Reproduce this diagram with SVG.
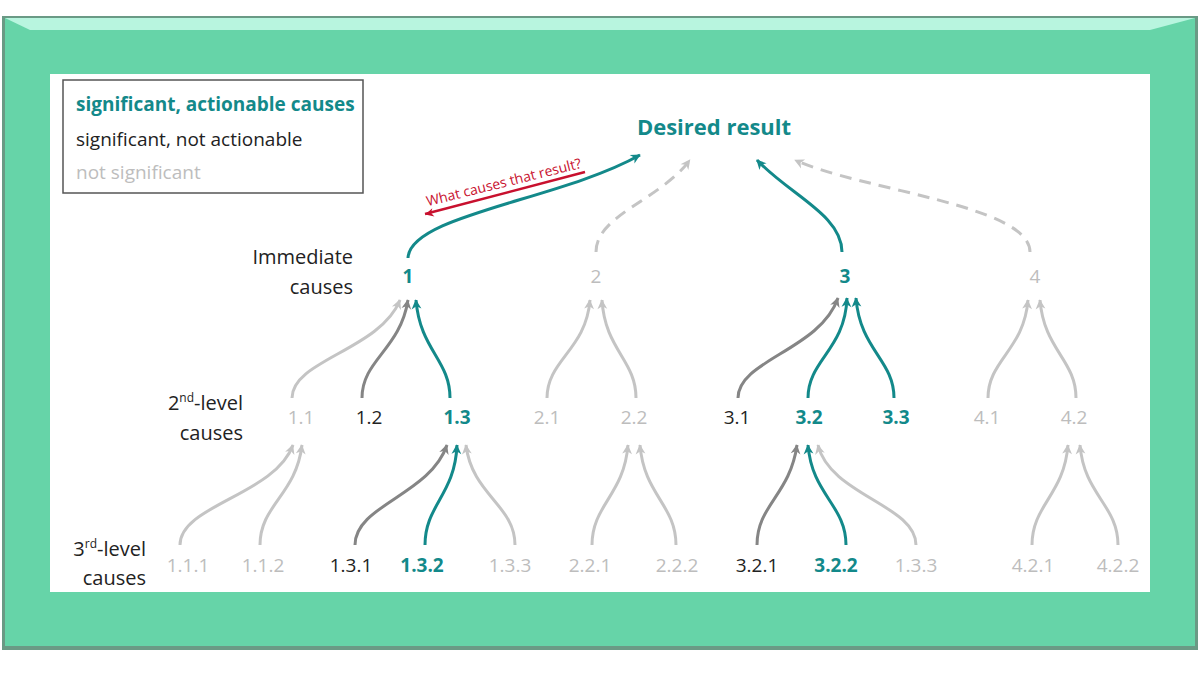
<svg xmlns="http://www.w3.org/2000/svg" width="1200" height="675" viewBox="0 0 1200 675">
<defs>
<style>
text{font-family:"Open Sans","Liberation Sans",sans-serif}
.t{fill:#13898a}.b{fill:#222}.g{fill:#bdbdbd}
.n{font-size:19px;text-anchor:middle}
.tb{font-weight:bold}
.c{fill:none;stroke-width:3}
.ct{stroke:#13898a}.cd{stroke:#858585}.cg{stroke:#c4c4c4}
.dash{stroke-dasharray:12 8}
</style>
<marker id="mt" viewBox="0 0 12 12" refX="11" refY="6" markerWidth="6" markerHeight="6" orient="auto" markerUnits="userSpaceOnUse" style="overflow:visible"><path d="M12,6 L-2,-1 L2,6 L-2,13Z" fill="#13898a" transform="scale(1.4) translate(-3,-2)"/></marker>
<marker id="md" viewBox="0 0 12 12" refX="11" refY="6" markerWidth="6" markerHeight="6" orient="auto" markerUnits="userSpaceOnUse" style="overflow:visible"><path d="M12,6 L-2,-1 L2,6 L-2,13Z" fill="#858585" transform="scale(1.4) translate(-3,-2)"/></marker>
<marker id="mg" viewBox="0 0 12 12" refX="11" refY="6" markerWidth="6" markerHeight="6" orient="auto" markerUnits="userSpaceOnUse" style="overflow:visible"><path d="M12,6 L-2,-1 L2,6 L-2,13Z" fill="#c4c4c4" transform="scale(1.4) translate(-3,-2)"/></marker>
<marker id="mr" viewBox="0 0 12 12" refX="11" refY="6" markerWidth="6" markerHeight="6" orient="auto" markerUnits="userSpaceOnUse" style="overflow:visible"><path d="M12,6 L-2,-1 L2,6 L-2,13Z" fill="#c8102e" transform="scale(1.2) translate(-3,-2)"/></marker>
</defs>
<rect width="1200" height="675" fill="#fff"/>
<g id="frame">
<rect x="2" y="16" width="1196" height="634" fill="#6a9a85"/>
<rect x="5" y="18" width="1190" height="628" fill="#66d4a8"/>
<polygon points="5,18 1195,18 1150,30 30,30" fill="#b8f5df"/>
<rect x="50" y="74" width="1100" height="518" fill="#fff"/>
</g>
<g id="legend">
<rect x="63" y="80" width="300" height="113" fill="#fff" stroke="#555" stroke-width="1.5"/>
<text x="76" y="111" font-size="19" class="t tb">significant, actionable causes</text>
<text x="76" y="146" font-size="19" class="b">significant, not actionable</text>
<text x="76" y="179" font-size="19" class="g">not significant</text>
</g>
<g id="levels" font-size="20" class="b" text-anchor="end">
<text x="353" y="264">Immediate</text>
<text x="353" y="294">causes</text>
<text x="243" y="410">2<tspan font-size="12" dy="-8">nd</tspan><tspan dy="8">-level</tspan></text>
<text x="243" y="440">causes</text>
<text x="146" y="556">3<tspan font-size="12" dy="-8">rd</tspan><tspan dy="8">-level</tspan></text>
<text x="146" y="585">causes</text>
</g>
<g id="connectors">
<path class="c ct" d="M408,258 C410,215 560,200 640,155" marker-end="url(#mt)"/>
<path class="c cg dash" d="M596,252 C596,215 660,200 690,160" marker-end="url(#mg)"/>
<path class="c ct" d="M842,252 C842,215 790,195 757,160" marker-end="url(#mt)"/>
<path class="c cg dash" d="M1030,252 C1030,205 860,190 795,160" marker-end="url(#mg)"/>
<path d="M585,172 L425,214" fill="none" stroke="#c8102e" stroke-width="2.5" marker-end="url(#mr)"/>
<!-- level2 -> level1 -->
<path class="c cg" d="M292,398 C292,360 380,350 400,300" marker-end="url(#mg)"/>
<path class="c cd" d="M362,398 C362,360 400,350 408,300" marker-end="url(#md)"/>
<path class="c ct" d="M450,398 C450,360 420,350 416,300" marker-end="url(#mt)"/>
<path class="c cg" d="M547,398 C547,360 586,350 590,300" marker-end="url(#mg)"/>
<path class="c cg" d="M636,398 C636,360 605,350 602,300" marker-end="url(#mg)"/>
<path class="c cd" d="M738,398 C738,360 820,350 838,298" marker-end="url(#md)"/>
<path class="c ct" d="M808,398 C808,360 845,350 847,298" marker-end="url(#mt)"/>
<path class="c ct" d="M894,398 C894,360 860,350 856,298" marker-end="url(#mt)"/>
<path class="c cg" d="M988,398 C988,360 1024,350 1028,300" marker-end="url(#mg)"/>
<path class="c cg" d="M1076,398 C1076,360 1044,350 1040,300" marker-end="url(#mg)"/>
<!-- level3 -> level2 -->
<path class="c cg" d="M180,545 C180,505 275,495 293,445" marker-end="url(#mg)"/>
<path class="c cg" d="M260,545 C260,505 296,495 302,445" marker-end="url(#mg)"/>
<path class="c cd" d="M355,545 C355,505 430,495 447,445" marker-end="url(#md)"/>
<path class="c ct" d="M425,545 C425,505 455,495 457,445" marker-end="url(#mt)"/>
<path class="c cg" d="M515,545 C515,505 472,495 466,445" marker-end="url(#mg)"/>
<path class="c cg" d="M592,545 C592,505 624,495 628,445" marker-end="url(#mg)"/>
<path class="c cg" d="M676,545 C676,505 644,495 640,445" marker-end="url(#mg)"/>
<path class="c cd" d="M757,545 C757,505 790,495 797,445" marker-end="url(#md)"/>
<path class="c ct" d="M846,545 C846,505 812,495 808,445" marker-end="url(#mt)"/>
<path class="c cg" d="M916,545 C916,505 830,495 818,445" marker-end="url(#mg)"/>
<path class="c cg" d="M1032,545 C1032,505 1064,495 1068,445" marker-end="url(#mg)"/>
<path class="c cg" d="M1118,545 C1118,505 1084,495 1080,445" marker-end="url(#mg)"/>
</g>
<g id="n0"><text x="714" y="135" font-size="22" text-anchor="middle" class="t tb">Desired result</text></g>
<text x="505" y="187" font-size="14" fill="#c8102e" text-anchor="middle" transform="rotate(-14 505 187)">What causes that result?</text>
<g id="n1"><text x="408" y="283" class="n t tb">1</text></g>
<g id="n2"><text x="596" y="283" class="n g">2</text></g>
<g id="n3"><text x="845" y="283" class="n t tb">3</text></g>
<g id="n4"><text x="1035" y="283" class="n g">4</text></g>
<g id="n11"><text x="301" y="424" class="n g">1.1</text></g>
<g id="n12"><text x="369" y="424" class="n b">1.2</text></g>
<g id="n13"><text x="457" y="424" class="n t tb">1.3</text></g>
<g id="n21"><text x="547" y="424" class="n g">2.1</text></g>
<g id="n22"><text x="634" y="424" class="n g">2.2</text></g>
<g id="n31"><text x="737" y="424" class="n b">3.1</text></g>
<g id="n32"><text x="809" y="424" class="n t tb">3.2</text></g>
<g id="n33"><text x="896" y="424" class="n t tb">3.3</text></g>
<g id="n41"><text x="987" y="424" class="n g">4.1</text></g>
<g id="n42"><text x="1074" y="424" class="n g">4.2</text></g>
<g id="n111"><text x="188" y="572" class="n g">1.1.1</text></g>
<g id="n112"><text x="263" y="572" class="n g">1.1.2</text></g>
<g id="n131"><text x="351" y="572" class="n b">1.3.1</text></g>
<g id="n132"><text x="422" y="572" class="n t tb">1.3.2</text></g>
<g id="n133"><text x="510" y="572" class="n g">1.3.3</text></g>
<g id="n221"><text x="590" y="572" class="n g">2.2.1</text></g>
<g id="n222"><text x="677" y="572" class="n g">2.2.2</text></g>
<g id="n321"><text x="757" y="572" class="n b">3.2.1</text></g>
<g id="n322"><text x="836" y="572" class="n t tb">3.2.2</text></g>
<g id="n323"><text x="916" y="572" class="n g">1.3.3</text></g>
<g id="n421"><text x="1033" y="572" class="n g">4.2.1</text></g>
<g id="n422"><text x="1118" y="572" class="n g">4.2.2</text></g>
</svg>
